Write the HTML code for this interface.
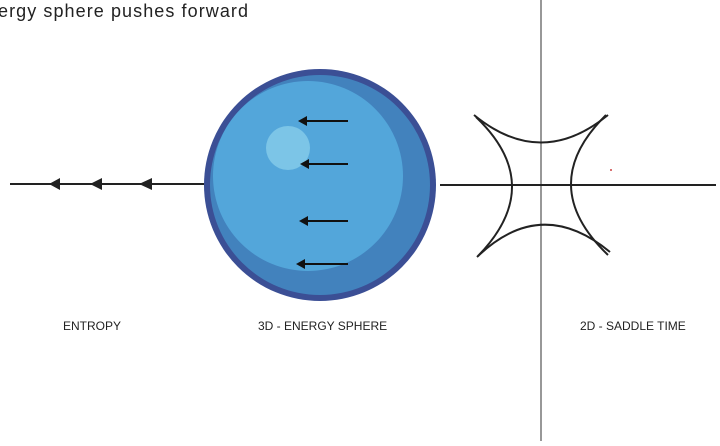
<!DOCTYPE html>
<html><head><meta charset="utf-8"><style>
html,body{margin:0;padding:0;background:#fff;}
body{width:720px;height:441px;overflow:hidden;}
</style></head><body>
<svg width="720" height="441" viewBox="0 0 720 441" xmlns="http://www.w3.org/2000/svg">
<text x="-2" y="17" font-family="Liberation Sans, sans-serif" font-size="18" fill="#222" textLength="250" lengthAdjust="spacing">ergy sphere pushes forward</text>
<!-- left line -->
<line x1="10" y1="184" x2="206" y2="184" stroke="#222" stroke-width="2"/>
<polygon points="49,184 60,178 60,190" fill="#222"/>
<polygon points="90,184 102,178 102,190" fill="#222"/>
<polygon points="139,184 152,178 152,190" fill="#222"/>
<!-- sphere -->
<circle cx="320" cy="185" r="116" fill="#3b4f95"/>
<circle cx="320" cy="185" r="110" fill="#4282bd"/>
<circle cx="308" cy="176" r="95" fill="#53a6da"/>
<circle cx="288" cy="148" r="22" fill="#7cc5e7"/>
<g stroke="#111" stroke-width="2">
<line x1="306" y1="121" x2="348" y2="121"/>
<line x1="306" y1="164" x2="348" y2="164"/>
<line x1="306" y1="221" x2="348" y2="221"/>
<line x1="304" y1="264" x2="348" y2="264"/>
</g>
<g fill="#111">
<polygon points="298,121 307,116 307,126"/>
<polygon points="300,164 309,159 309,169"/>
<polygon points="299,221 308,216 308,226"/>
<polygon points="296,264 305,259 305,269"/>
</g>
<!-- saddle -->
<line x1="541" y1="0" x2="541" y2="441" stroke="#777" stroke-width="1.5"/>
<line x1="440" y1="185" x2="716" y2="185" stroke="#222" stroke-width="2"/>
<g fill="none" stroke="#222" stroke-width="2">
<path d="M474,115 Q541,170 608,115"/>
<path d="M476,117 Q547,185 478,256"/>
<path d="M606,115 Q535,185 608,255"/>
<path d="M477,257 Q541,195 610,252"/>
</g>
<circle cx="611" cy="170" r="1" fill="#c44"/>
<g font-family="Liberation Sans, sans-serif" font-size="12" fill="#222">
<text x="63" y="330">ENTROPY</text>
<text x="258" y="330">3D - ENERGY SPHERE</text>
<text x="580" y="330">2D - SADDLE TIME</text>
</g>
</svg>
</body></html>
